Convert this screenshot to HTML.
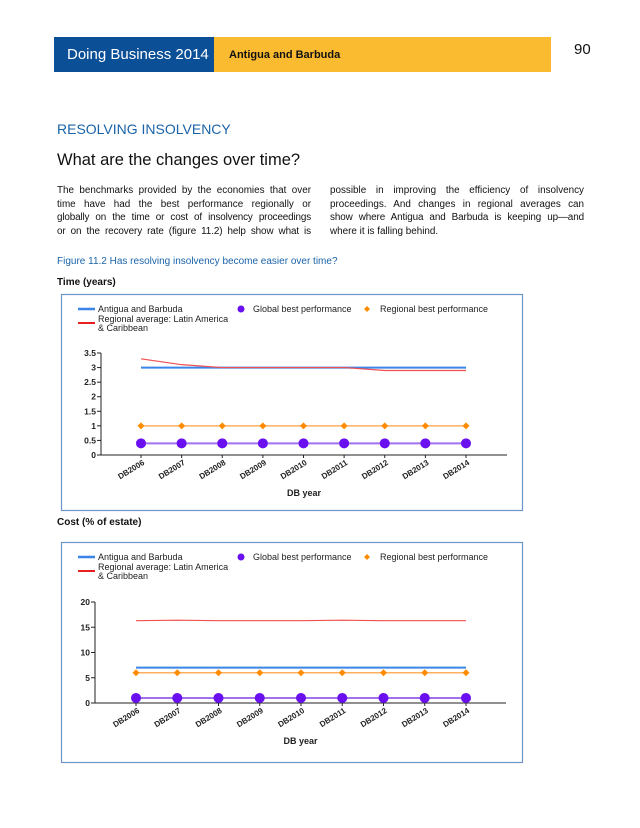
<!DOCTYPE html>
<html><head><meta charset="utf-8">
<style>
body{margin:0;background:#fff;}
#page{position:relative;width:640px;height:828px;overflow:hidden;font-family:"Liberation Sans",sans-serif;color:#111;}
.abs{position:absolute;}
.col{position:absolute;top:184px;width:254px;font-size:9.9px;line-height:13.6px;}
.col div{text-align:justify;text-align-last:justify;white-space:nowrap;}
.col div.l{text-align-last:left;}
svg text{font-family:"Liberation Sans",sans-serif;}
</style></head><body>
<div id="page">
<div class="abs" style="left:54px;top:37px;width:160px;height:35px;background:#0b4f96;color:#fff;font-size:15px;line-height:35px;text-indent:13px;">Doing Business 2014</div>
<div class="abs" style="left:214px;top:37px;width:337px;height:35px;background:#fbbb30;font-size:11px;font-weight:bold;line-height:37px;text-indent:15px;">Antigua and Barbuda</div>
<div class="abs" style="left:574px;top:41px;font-size:15px;">90</div>
<div class="abs" style="left:57px;top:121px;font-size:14px;color:#1b63a8;">RESOLVING INSOLVENCY</div>
<div class="abs" style="left:57px;top:151px;font-size:16.5px;">What are the changes over time?</div>
<div class="col" style="left:57px;">
<div style="word-spacing:-0.6px">The benchmarks provided by the economies that over</div>
<div>time have had the best performance regionally or</div>
<div style="word-spacing:-0.8px;letter-spacing:-0.15px">globally on the time or cost of insolvency proceedings</div>
<div style="word-spacing:-0.6px;letter-spacing:-0.1px">or on the recovery rate (figure 11.2) help show what is</div>
</div>
<div class="col" style="left:330px;">
<div>possible in improving the efficiency of insolvency</div>
<div>proceedings. And changes in regional averages can</div>
<div style="word-spacing:-0.6px;letter-spacing:-0.1px">show where Antigua and Barbuda is keeping up—and</div>
<div class="l">where it is falling behind.</div>
</div>
<div class="abs" style="left:57px;top:256px;font-size:10px;color:#1b63a8;">Figure 11.2 Has resolving insolvency become easier over time?</div>
<div class="abs" style="left:57px;top:277px;font-size:10px;font-weight:bold;">Time (years)</div>
<div class="abs" style="left:57px;top:517px;font-size:10px;font-weight:bold;">Cost (% of estate)</div>
<svg class="abs" id="svg" style="left:0;top:0" width="640" height="828"></svg>
</div>
<script>
const categories=["DB2006","DB2007","DB2008","DB2009","DB2010","DB2011","DB2012","DB2013","DB2014"];
const timeAntigua=[3,3,3,3,3,3,3,3,3];
const timeRegionalAvg=[3.3,3.1,3.0,3.0,3.0,3.0,2.9,2.9,2.9];
const timeGlobalBest=[0.4,0.4,0.4,0.4,0.4,0.4,0.4,0.4,0.4];
const timeRegionalBest=[1,1,1,1,1,1,1,1,1];
const timeTicks=[0,0.5,1,1.5,2,2.5,3,3.5];
const costAntigua=[7,7,7,7,7,7,7,7,7];
const costRegionalAvg=[16.3,16.4,16.3,16.3,16.3,16.4,16.3,16.3,16.3];
const costGlobalBest=[1,1,1,1,1,1,1,1,1];
const costRegionalBest=[6,6,6,6,6,6,6,6,6];
const costTicks=[0,5,10,15,20];

const NS="http://www.w3.org/2000/svg";
const svg=document.getElementById('svg');
function mk(tag,attrs,parent,name){const e=document.createElementNS(NS,tag);for(const k in attrs)e.setAttribute(k,attrs[k]);


(parent||svg).appendChild(e);return e;}

function chart(cfg){
  const g=mk('g',{},svg,cfg.name);
  mk('rect',{x:61.5,y:cfg.top+0.5,width:461,height:cfg.h,fill:'#fff',stroke:'#6e96c8','stroke-width':1.2},g,'chart-frame');
  const ly=cfg.top+15;
  mk('line',{x1:78,x2:95,y1:ly,y2:ly,stroke:'#3a86e8','stroke-width':2.5},g,'legend-antigua-swatch');
  const t1=mk('text',{x:98,y:ly+3,'font-size':9,fill:'#222'},g,'legend-antigua');t1.textContent='Antigua and Barbuda';
  mk('circle',{cx:241,cy:ly,r:3.5,fill:'#6a10f0'},g,'legend-global-swatch');
  const t2=mk('text',{x:253,y:ly+3,'font-size':9,fill:'#222'},g,'legend-global');t2.textContent='Global best performance';
  mk('path',{d:`M367 ${ly-3}L370 ${ly}L367 ${ly+3}L364 ${ly}Z`,fill:'#ff8c00'},g,'legend-regional-best-swatch');
  const t3=mk('text',{x:380,y:ly+3,'font-size':9,fill:'#222'},g,'legend-regional-best');t3.textContent='Regional best performance';
  mk('line',{x1:78,x2:95,y1:ly+14,y2:ly+14,stroke:'#e82020','stroke-width':2},g,'legend-regional-avg-swatch');
  const t4=mk('text',{x:98,y:ly+13,'font-size':9,fill:'#222'},g,'legend-regional-avg');t4.textContent='Regional average: Latin America';
  const t5=mk('text',{x:98,y:ly+22,'font-size':9,fill:'#222'},g,'legend-regional-avg-2');t5.textContent='& Caribbean';
  const y=v=>cfg.y0-(v-cfg.min)/(cfg.max-cfg.min)*(cfg.y0-cfg.y1);
  const x=i=>cfg.x0+i*(cfg.xN-cfg.x0)/(categories.length-1);
  mk('line',{x1:cfg.ax,x2:cfg.ax,y1:y(cfg.max),y2:cfg.y0,stroke:'#222','stroke-width':1},g,'y-axis');
  mk('line',{x1:cfg.ax,x2:cfg.axEnd,y1:cfg.y0,y2:cfg.y0,stroke:'#222','stroke-width':1},g,'x-axis');
  cfg.ticks.forEach(v=>{mk('line',{x1:cfg.ax-4,x2:cfg.ax,y1:y(v),y2:y(v),stroke:'#222'},g,'y-tick');
    const t=mk('text',{x:cfg.ax-5,y:y(v)+3,'font-size':8.5,'font-weight':'bold','text-anchor':'end',fill:'#222'},g,'y-tick-label');t.textContent=v;});
  categories.forEach((c,i)=>{mk('line',{x1:x(i),x2:x(i),y1:cfg.y0,y2:cfg.y0+3,stroke:'#222'},g,'x-tick');
    const t=mk('text',{x:0,y:0,'font-size':8,'font-weight':'bold','text-anchor':'end',fill:'#222',transform:`translate(${x(i)+4},${cfg.y0+9}) rotate(-32)`},g,'x-tick-label');t.textContent=c;});
  const xt=mk('text',{x:(cfg.ax+cfg.axEnd)/2,y:cfg.y0+41,'font-size':9,'font-weight':'bold','text-anchor':'middle',fill:'#222'},g,'x-axis-title');xt.textContent='DB year';
  const pts=a=>a.map((v,i)=>x(i)+','+y(v)).join(' ');
  mk('polyline',{points:pts(cfg.rb),fill:'none',stroke:'#ffb060','stroke-width':1.5},g,'regional-best-line');
  cfg.rb.forEach((v,i)=>mk('path',{d:`M${x(i)} ${y(v)-3.5}L${x(i)+3.5} ${y(v)}L${x(i)} ${y(v)+3.5}L${x(i)-3.5} ${y(v)}Z`,fill:'#ff8c00'},g,'regional-best-point'));
  mk('polyline',{points:pts(cfg.gb),fill:'none',stroke:'#a070f0','stroke-width':2},g,'global-best-line');
  cfg.gb.forEach((v,i)=>mk('circle',{cx:x(i),cy:y(v),r:5,fill:'#6a10f0'},g,'global-best-point'));
  mk('polyline',{points:pts(cfg.ab),fill:'none',stroke:'#3a86e8','stroke-width':2},g,'antigua-line');
  mk('polyline',{points:pts(cfg.avg),fill:'none',stroke:'#f05050','stroke-width':1.2},g,'regional-avg-line');
}
chart({name:'time-chart',top:294,h:216,ax:101,axEnd:507,y0:455,y1:353,min:0,max:3.5,x0:141,xN:466,ticks:timeTicks,ab:timeAntigua,avg:timeRegionalAvg,gb:timeGlobalBest,rb:timeRegionalBest});
chart({name:'cost-chart',top:542,h:220,ax:95,axEnd:506,y0:703,y1:602,min:0,max:20,x0:136,xN:466,ticks:costTicks,ab:costAntigua,avg:costRegionalAvg,gb:costGlobalBest,rb:costRegionalBest});
</script>
</body></html>
